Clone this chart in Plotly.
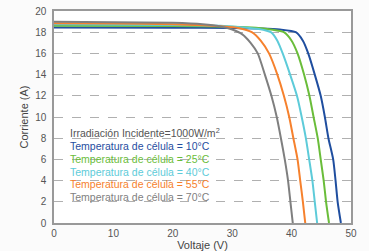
import plotly.graph_objects as go

# Data (Voltage V, Current A)
labels = ["Temperatura de célula = 10°C", "Temperatura de célula = 25°C",
          "Temperatura de célula = 40°C", "Temperatura de célula = 55°C",
          "Temperatura de célula = 70°C"]
colors = ["#1f4e9f", "#6abd3a", "#5dcbd9", "#f6812d", "#7f7f7f"]

v_10 = [0, 20, 30, 35, 38, 40.7, 41.9, 42.8, 43.9, 44.9, 45.6, 46.2, 47.0, 47.4, 47.75, 48.3]
i_10 = [18.45, 18.43, 18.4, 18.35, 18.25, 18.0, 17.2, 16, 14, 12, 10, 8, 6, 4, 2, 0]

v_25 = [0, 20, 30, 34, 36.5, 38.7, 40.0, 41.0, 42.1, 43.0, 43.7, 44.4, 44.9, 45.4, 45.8, 46.3]
i_25 = [18.62, 18.58, 18.52, 18.42, 18.25, 18.0, 17.2, 16, 14, 12, 10, 8, 6, 4, 2, 0]

v_40 = [0, 20, 28, 32, 34.5, 36.5, 37.6, 38.5, 39.75, 40.9, 41.7, 42.4, 42.96, 43.5, 43.9, 44.3]
i_40 = [18.75, 18.68, 18.6, 18.45, 18.3, 18.0, 17.2, 16, 14, 12, 10, 8, 6, 4, 2, 0]

v_55 = [0, 10, 20, 25, 28, 31, 33.3, 34.8, 36.2, 37.6, 38.7, 39.6, 40.3, 41.0, 41.45, 41.9, 42.3]
i_55 = [18.85, 18.82, 18.75, 18.65, 18.55, 18.4, 18.0, 17.2, 16, 14, 12, 10, 8, 6, 4, 2, 0]

v_70 = [0, 10, 20, 25, 28, 30, 31.7, 33.1, 34.3, 35.5, 36.6, 37.5, 38.2, 38.85, 39.4, 39.8, 40.2]
i_70 = [18.98, 18.95, 18.88, 18.75, 18.55, 18.25, 17.8, 17.0, 16, 14, 12, 10, 8, 6, 4, 2, 0]

series_v = [v_10, v_25, v_40, v_55, v_70]
series_i = [i_10, i_25, i_40, i_55, i_70]

x_ticks = [0, 10, 20, 30, 40, 50]
y_ticks = [0, 2, 4, 6, 8, 10, 12, 14, 16, 18, 20]

fig = go.Figure()
for v, i, c, n in zip(series_v, series_i, colors, labels):
    fig.add_trace(go.Scatter(x=v, y=i, mode="lines", name=n,
                             line=dict(color=c, width=2, shape="spline", smoothing=0.6),
                             showlegend=False))

font_family = "Liberation Sans, Arial, sans-serif"
legend_lines = ["Irradiación Incidente=1000W/m<sup>2</sup>"] + labels
legend_colors = ["#555555"] + colors
legend_y = [8.5, 7.28, 6.06, 4.83, 3.67, 2.5]
for txt, col, yy in zip(legend_lines, legend_colors, legend_y):
    fig.add_annotation(x=2.4, y=yy, xref="x", yref="y", text=txt, showarrow=False,
                       xanchor="left", yanchor="middle",
                       font=dict(family=font_family, size=10.5, color=col))

axis_common = dict(showline=True, linecolor="#999999", linewidth=1.5, mirror=True,
                   zeroline=False, ticks="",
                   tickfont=dict(family=font_family, size=10, color="#555555"))

fig.update_xaxes(range=[0, 50], tickvals=x_ticks, showgrid=False, ticklabelstandoff=0,
                 title=dict(text="Voltaje (V)", standoff=0,
                            font=dict(family=font_family, size=11, color="#444444")),
                 **axis_common)
fig.update_yaxes(range=[0, 20], tickvals=y_ticks, ticklabelstandoff=4,
                 showgrid=True, gridcolor="#b0b0b0", griddash="dash", gridwidth=1,
                 title=dict(text="Corriente (A)", standoff=4,
                            font=dict(family=font_family, size=11, color="#444444")),
                 **axis_common)

fig.update_layout(width=369, height=251, margin=dict(l=54, r=18, t=5, b=28),
                  paper_bgcolor="#fbfbfb", plot_bgcolor="white",
                  font=dict(family=font_family))

fig.write_html("out.html", config={"displayModeBar": False},
               post_script="document.body.style.margin='0';document.body.style.overflow='hidden';")
